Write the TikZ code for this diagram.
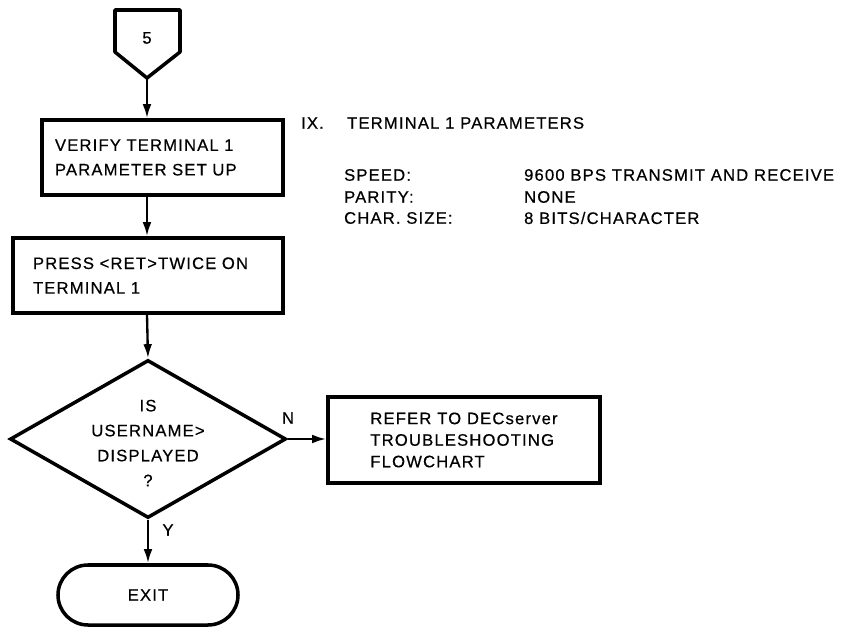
\documentclass[tikz,border=0pt]{standalone}
\usepackage{fontspec}
\setmainfont[LetterSpace=7,FakeBold=0.5]{Liberation Sans}
\usetikzlibrary{arrows.meta,shapes.geometric}

\begin{document}
\begin{tikzpicture}[x=0.03cm,y=-0.03cm,>={Latex[length=12pt,width=7.5pt]},
    font=\fontsize{14.2}{18.4}\selectfont,
    box/.style={draw,line width=3pt,align=left,minimum height=2.25cm,
      font=\fontsize{14.2}{21}\selectfont},
    decision/.style={draw,diamond,line width=3pt,minimum width=8.28cm,minimum height=4.74cm},
    terminal/.style={draw,line width=3pt,rounded corners=0.9cm,minimum width=5.4cm,minimum height=1.8cm},
    flow/.style={->,line width=2pt}]
    \useasboundingbox (0,0) rectangle (849,627);

    % connector from sheet 5
    \draw[line width=3pt,line join=round] (115,10) -- (180,10) -- (180,52) -- (147,78) -- (115,52) -- cycle;
    \node (con) at (147,38) {5};
    \coordinate (contip) at (147,78);

    \node[box,text width=6.45cm,inner xsep=0.39cm] (verify) at (162.5,157.5) {VERIFY TERMINAL 1\\PARAMETER SET UP};
    \node[box,text width=6.9cm,inner xsep=0.6cm] (press) at (148,275.5) {PRESS <RET>TWICE ON\\TERMINAL 1};
    \node[decision] (disp) at (148,439) {};
    \node[align=center,font=\fontsize{14.2}{21.3}\selectfont] (disptxt) at (148,443) {IS\\USERNAME>\\DISPLAYED\\?};
    \node[box,minimum width=8.16cm,minimum height=2.58cm,font=\fontsize{14.2}{18.4}\selectfont] (refer) at (464,440) {REFER TO DECserver\\TROUBLESHOOTING\\FLOWCHART};
    \node[terminal] (exit) at (148,595) {EXIT};

    \draw[flow] (contip) -- (verify.north -| con);
    \draw[flow] (verify.south -| con) -- (press.north -| con);
    \draw[flow] (press.south -| con) -- (disp.north);
    \draw[flow] (disp.east) -- (disp.east -| refer.west);
    \draw[flow] (disp.south) -- (exit.north);
    \node (no) at (288,418) {N};
    \node (yes) at (168,530) {Y};

    % terminal 1 settings
    \node[anchor=west] (sec) at (297,123) {IX.};
    \node[anchor=west] (sectitle) at (343,123) {TERMINAL 1 PARAMETERS};
    \node[anchor=west] (speed) at (340,175) {SPEED:};
    \node[anchor=west] (speedval) at (520,175) {9600 BPS TRANSMIT AND RECEIVE};
    \node[anchor=west] (parity) at (340,197) {PARITY:};
    \node[anchor=west] (parityval) at (520,197) {NONE};
    \node[anchor=west] (size) at (340,218) {CHAR. SIZE:};
    \node[anchor=west] (sizeval) at (520,218) {8 BITS/CHARACTER};
\end{tikzpicture}
\end{document}
